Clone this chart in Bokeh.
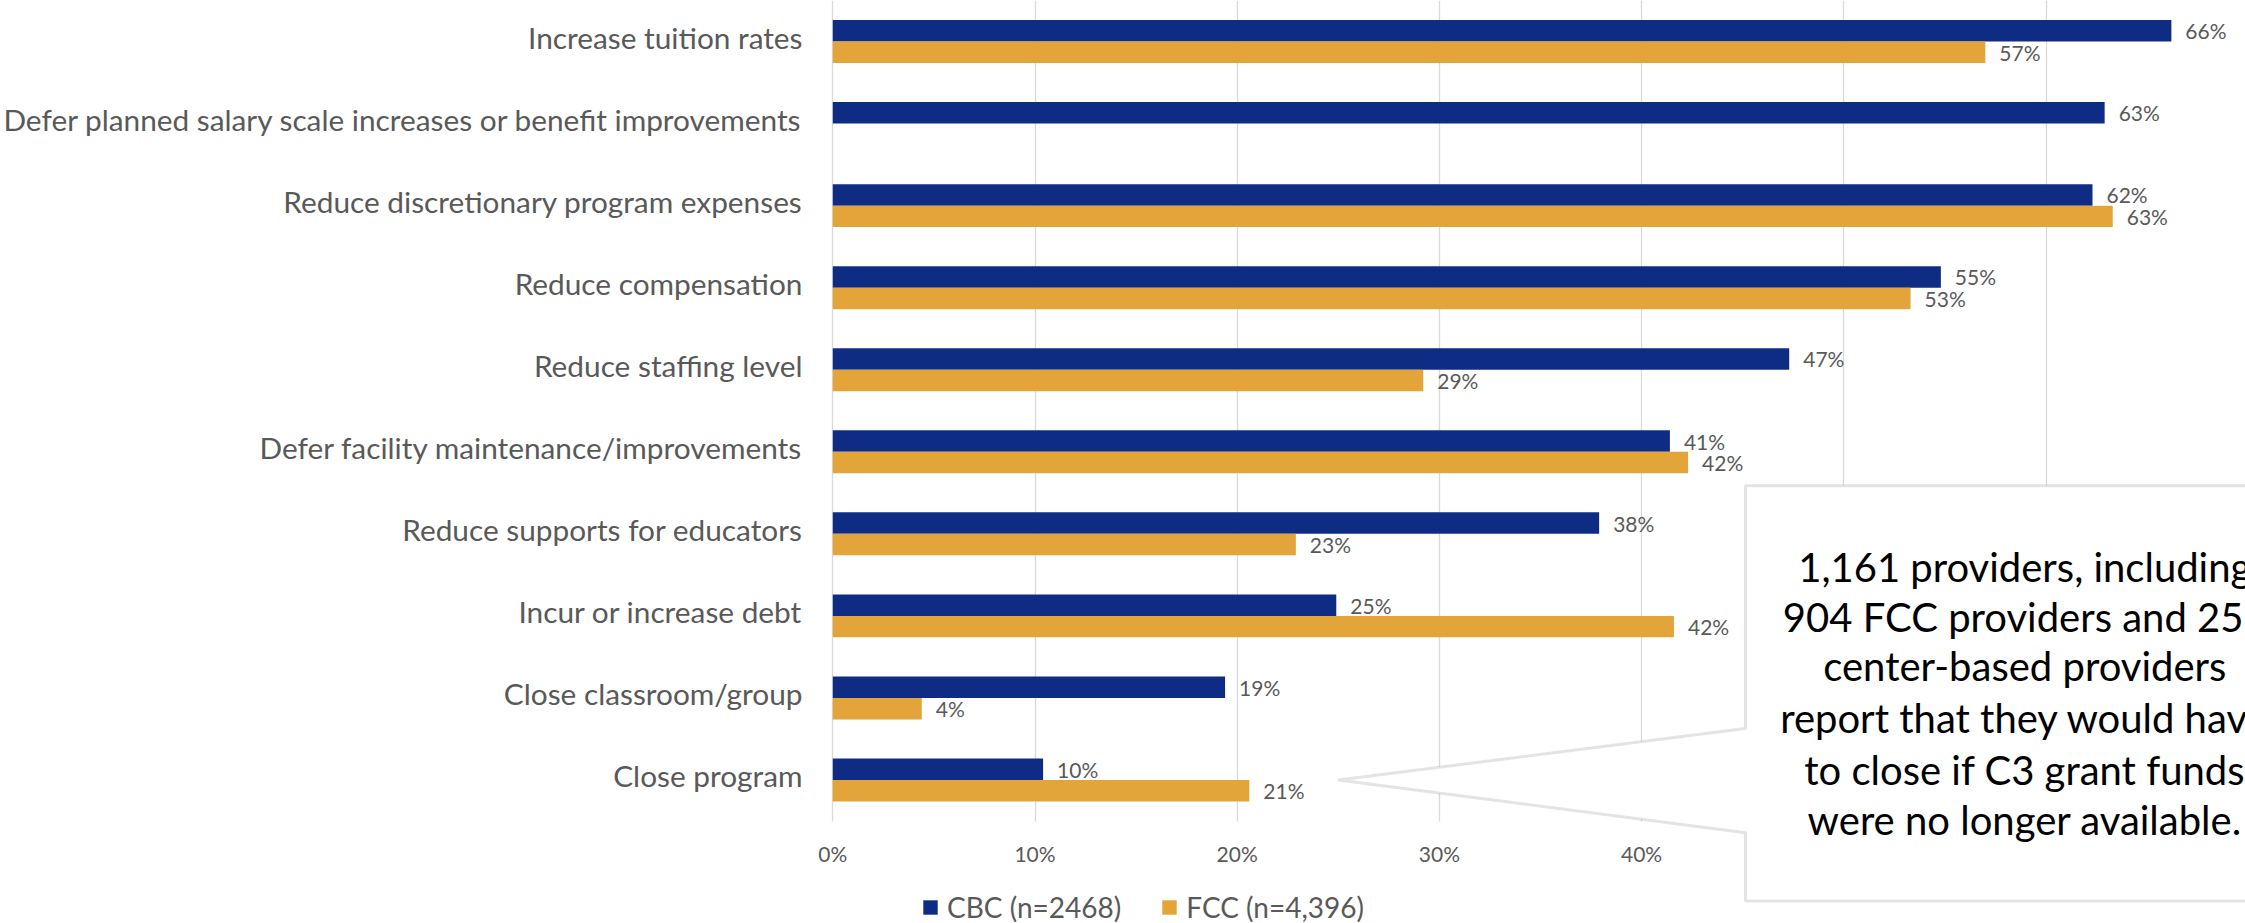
import math
from bokeh.plotting import figure
from bokeh.models import (Range1d, ColumnDataSource, PrintfTickFormatter,
                          FixedTicker, Legend, LegendItem, PolyAnnotation, Label)
from bokeh.embed import file_html
from bokeh.resources import INLINE
from bokeh.core.properties import value

# ---------------- data ----------------
categories = [
    "Increase tuition rates",
    "Defer planned salary scale increases or benefit improvements",
    "Reduce discretionary program expenses",
    "Reduce compensation",
    "Reduce staffing level",
    "Defer facility maintenance/improvements",
    "Reduce supports for educators",
    "Incur or increase debt",
    "Close classroom/group",
    "Close program",
]
cbc_values = [66.2, 62.9, 62.3, 54.8, 47.3, 41.4, 37.9, 24.9, 19.4, 10.4]
fcc_values = [57.0, float("nan"), 63.3, 53.3, 29.2, 42.3, 22.9, 41.6, 4.4, 20.6]
series_names = ["CBC (n=2468)", "FCC (n=4,396)"]
x_ticks = [0, 10, 20, 30, 40, 50, 60]
callout_lines = [
    "1,161 providers, including",
    "904 FCC providers and 257",
    "center-based providers",
    "report that they would have",
    "to close if C3 grant funds",
    "were no longer available.",
]

# ---------------- style / layout ----------------
NAVY = "#0E2C84"
GOLD = "#E3A439"
GREY_TXT = "#595959"
GRID = "#D9D9D9"
FONT = "Lato"
W, H = 2245, 923
LEFT = 808            # frame left edge (px)
ZERO_PX = 832.3       # pixel position of 0 %
PX_PER_PCT = 20.22
SLOT = 82.05          # pixel height of one category slot
BAR_H = 0.262
OFF = BAR_H / 2
LABEL_SHIFT = 0.05    # nudges category labels to the bar-pair centre


def lbl(v):
    return "" if (v is None or (isinstance(v, float) and math.isnan(v))) else f"{round(v):d}%"


pos = list(range(len(categories)))          # 0 = top category
n = len(categories)
src = ColumnDataSource(dict(
    cat=categories,
    y_cbc=[i - OFF for i in pos],
    y_fcc=[i + OFF for i in pos],
    cbc=cbc_values,
    fcc=fcc_values,
    cbc_lbl=[lbl(v) for v in cbc_values],
    fcc_lbl=[lbl(v) for v in fcc_values],
))

x_min = -(ZERO_PX - LEFT) / PX_PER_PCT
x_max = (W - ZERO_PX) / PX_PER_PCT
p = figure(
    width=W, height=H,
    y_range=Range1d(start=-0.5 + H / SLOT, end=-0.5),
    x_range=Range1d(x_min, x_max),
    output_backend="svg", toolbar_location=None,
    min_border_left=LEFT, min_border_right=0, min_border_top=0, min_border_bottom=0,
)
p.outline_line_color = None
p.background_fill_color = "white"
p.border_fill_color = "white"

# grid lines (only over the category area)
p.ygrid.visible = False
p.xgrid.ticker = FixedTicker(ticks=x_ticks)
p.xgrid.grid_line_color = GRID
p.xgrid.grid_line_width = 1.3
try:
    p.xgrid.cross_bounds = (-0.5, n - 0.5)
except Exception:
    pass

r_cbc = p.hbar(y="y_cbc", left=0, right="cbc", height=BAR_H,
               source=src, fill_color=NAVY, line_color=None)
r_fcc = p.hbar(y="y_fcc", left=0, right="fcc", height=BAR_H,
               source=src, fill_color=GOLD, line_color=None)

p.text(x="cbc", y="y_cbc", text="cbc_lbl", source=src,
       x_offset=14, text_baseline="middle", text_align="left",
       text_font=value(FONT), text_font_size="21px", text_color=GREY_TXT)
p.text(x="fcc", y="y_fcc", text="fcc_lbl", source=src,
       x_offset=14, text_baseline="middle", text_align="left",
       text_font=value(FONT), text_font_size="21px", text_color=GREY_TXT)

# x axis drawn under the category area
p.xaxis.fixed_location = n - 0.5 - 6.5 / SLOT
p.xaxis.ticker = FixedTicker(ticks=x_ticks)
p.xaxis.formatter = PrintfTickFormatter(format="%d%%")
p.xaxis.axis_line_color = None
p.xaxis.major_tick_line_color = None
p.xaxis.minor_tick_line_color = None
p.xaxis.major_label_text_font = FONT
p.xaxis.major_label_text_font_size = "21px"
p.xaxis.major_label_text_color = GREY_TXT
p.xaxis.major_label_standoff = 20

# y axis: category labels
y_ticks = [i - LABEL_SHIFT for i in pos]
p.yaxis.ticker = FixedTicker(ticks=y_ticks)
p.yaxis.major_label_overrides = {t: c for t, c in zip(y_ticks, categories)}
p.yaxis.axis_line_color = None
p.yaxis.major_tick_line_color = None
p.yaxis.minor_tick_line_color = None
p.yaxis.major_tick_out = 0
p.yaxis.major_tick_in = 0
p.yaxis.minor_tick_out = 0
p.yaxis.major_label_text_font = FONT
p.yaxis.major_label_text_font_size = "29.8px"
p.yaxis.major_label_text_color = GREY_TXT
p.yaxis.major_label_standoff = 6

# callout (shape with pointer to "Close program")
callout = PolyAnnotation(
    xs=[45.14, 90, 90, 45.14, 45.14, 25.0, 45.14],
    ys=[5.415, 5.415, 10.476, 10.476, 9.643, 9.0, 8.374],
    fill_color="white", fill_alpha=1.0,
    line_color="#A6A6A6", line_width=3,
)
p.add_layout(callout)

line_y = [6.41, 7.01, 7.609, 8.243, 8.878, 9.487]
for t, yy in zip(callout_lines, line_y):
    p.add_layout(Label(x=58.95, y=yy, text=t, text_align="center", text_baseline="middle",
                       text_font=FONT, text_font_size="40px", text_color="black"))

# legend
legend = Legend(
    items=[LegendItem(label=series_names[0], renderers=[r_cbc]),
           LegendItem(label=series_names[1], renderers=[r_fcc])],
    orientation="horizontal", location=(113, -1),
    label_text_font=FONT, label_text_font_size="28px", label_text_color=GREY_TXT,
    glyph_width=18, glyph_height=18, label_standoff=8, spacing=39,
    border_line_color=None, background_fill_alpha=0, padding=0, margin=0,
)
p.add_layout(legend)

open("out.html", "w").write(file_html(p, INLINE))
